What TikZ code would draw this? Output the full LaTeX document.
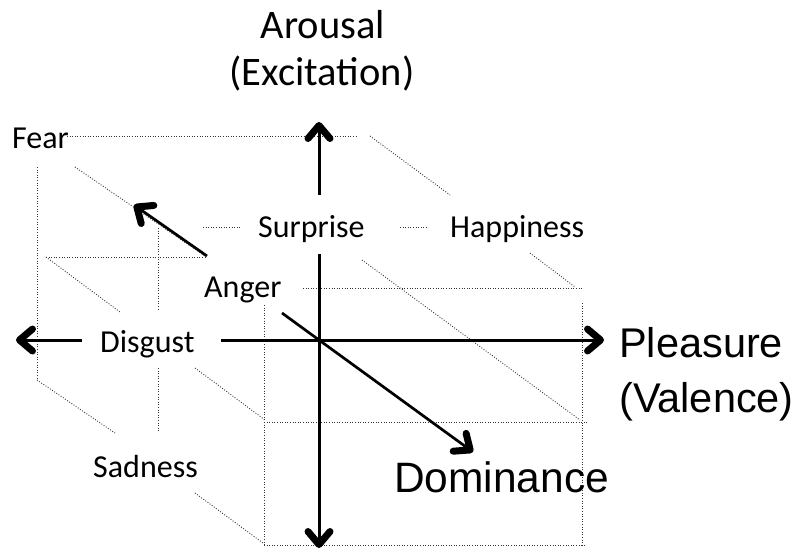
\documentclass[tikz,border=0pt]{standalone}
\usepackage{fontspec}
\setmainfont{Carlito}
\newfontfamily\arialf{Liberation Sans}
\usetikzlibrary{arrows.meta}
\begin{document}
\begin{tikzpicture}[x=1pt,y=-1pt,
  tipstyle/.tip={Straight Barb[length=13pt,width=22pt,line width=7pt,round]},
  axisarrow/.style={line width=3pt,-tipstyle},
  domarrow/.style={line width=2.7pt,-tipstyle},
  dotline/.style={line width=0.9pt,black!80,dash pattern=on 0.9pt off 1.7pt},
  emo/.style={inner sep=0pt,anchor=base west,font=\fontsize{32}{38}\selectfont},
  axlab/.style={inner sep=0pt,anchor=base,font=\fontsize{40.5}{47}\selectfont},
  arlab/.style={inner sep=0pt,anchor=base west,font=\arialf\fontsize{41.5}{48}\selectfont}
]
\useasboundingbox[fill=white] (0,0) rectangle (802,554);

% ---------------- dotted cube ----------------
\draw[dotline] (67,136) -- (357,136);
\draw[dotline] (370,136) -- (450,195);
\draw[dotline] (530,253) -- (575,287);
\draw[dotline] (37,167) -- (37,380);
\draw[dotline] (75,167) -- (205,256);
\draw[dotline] (158,228) -- (158,310);
\draw[dotline] (158,368) -- (158,432);
\draw[dotline] (46,257) -- (207,257);
\draw[dotline] (46,257) -- (120,312);
\draw[dotline] (195,368) -- (265,420);
\draw[dotline] (37,380) -- (115,433);
\draw[dotline] (195,493) -- (263,543);
\draw[dotline] (203,227) -- (240,227);
\draw[dotline] (400,227) -- (428,227);
\draw[dotline] (303,288) -- (583,288);
\draw[dotline] (362,260) -- (580,420);
\draw[dotline] (264,305) -- (264,545);
\draw[dotline] (582,303) -- (582,545);
\draw[dotline] (264,422) -- (588,422);
\draw[dotline] (264,545) -- (584,545);

% ---------------- axes ----------------
\coordinate (O) at (319,340);
\coordinate (xl) at (16,340);
\coordinate (xla) at (82,340);
\coordinate (xra) at (221,340);
\coordinate (xr) at (604,340);
\coordinate (yt) at (319,122);
\coordinate (yta) at (319,195);
\coordinate (yba) at (319,254);
\coordinate (yb) at (319,548);
\coordinate (zb) at (134,205);
\coordinate (zba) at (207,256);
\coordinate (zfa) at (282,313);
\coordinate (zf) at (473,452);

\draw[axisarrow] (xla) -- (xl);
\draw[axisarrow] (xra) -- (O) -- (xr);
\draw[axisarrow] (yta) -- (yt);
\draw[axisarrow] (yba) -- (O) -- (yb);
\draw[domarrow] (zba) -- (zb);
\draw[domarrow] (zfa) -- (O) -- (zf);

% ---------------- labels ----------------
\node[axlab] (arousal) at (323,38) {Arousal};
\node[axlab] (excitation) at (322,85) {(Excitation)};
\node[arlab] (pleasure) at (619,357) {Pleasure};
\node[arlab] (valence) at (619,412) {(Valence)};
\node[arlab,font=\arialf\fontsize{42.5}{49}\selectfont] (dominance) at (394,492) {Dominance};

\node[emo] (fear) at (12,148) {Fear};
\node[emo] (surprise) at (258,237) {Surprise};
\node[emo] (happiness) at (450,237) {Happiness};
\node[emo] (anger) at (204,297) {Anger};
\node[emo] (disgust) at (100,352) {Disgust};
\node[emo] (sadness) at (93,477) {Sadness};
\end{tikzpicture}
\end{document}
